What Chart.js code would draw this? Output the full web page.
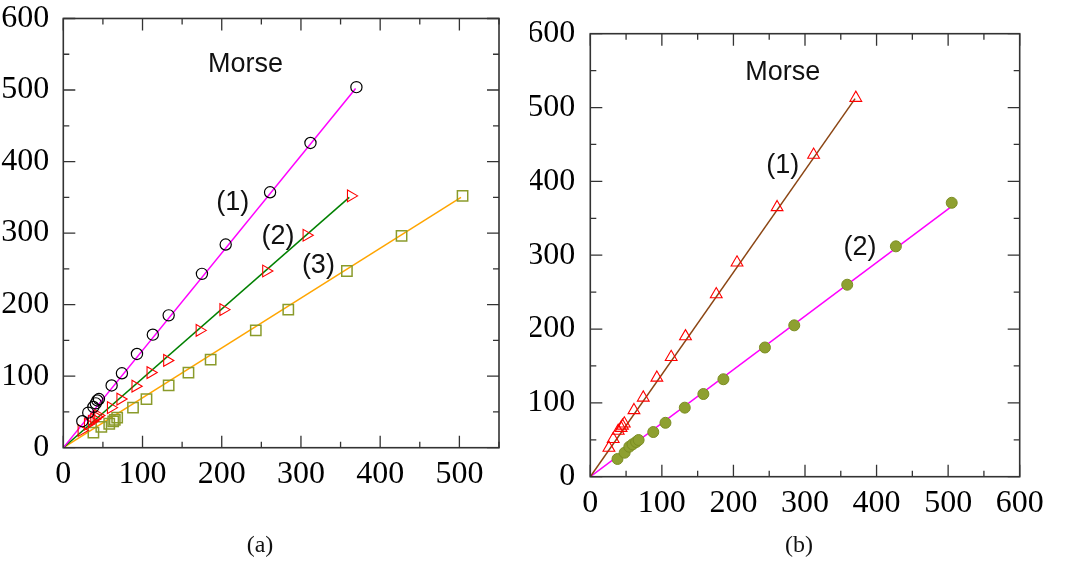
<!DOCTYPE html>
<html>
<head>
<meta charset="utf-8">
<script src="https://cdn.jsdelivr.net/npm/chart.js@4.4.0/dist/chart.umd.min.js"></script>
<style>
  body { margin: 0; background: #fff; width: 1070px; height: 565px; position: relative; overflow: hidden; }
  canvas { position: absolute; top: 0; }
  #chartA { left: 0; }
  #chartB { left: 530px; }
  .cap { position: absolute; font-family: 'Liberation Serif', serif; font-size: 24px; color: #111;
         transform: translateX(-50%); line-height: 28px; }
</style>
</head>
<body>
<canvas id="chartA" width="530" height="565"></canvas>
<canvas id="chartB" width="540" height="565"></canvas>
<div class="cap" style="left:260px;top:530px">(a)</div>
<div class="cap" style="left:799px;top:530px">(b)</div>
<script>
// ---- panel (a): three Morse series ----
const a1X = [24, 31.5, 38, 41, 43, 45, 61, 74, 93, 113, 133, 175, 205, 261, 312, 370];
const a1Y = [37, 49, 57, 62, 66, 68, 87, 104, 131, 158, 185, 243, 284, 357, 426, 504];
const a2X = [23, 31, 36, 39, 42, 44, 60, 72, 91, 110, 131, 172, 202, 256, 307, 363];
const a2Y = [24, 33, 37, 40, 43, 45, 56, 68, 86, 105, 122, 164, 193, 247, 297, 352];
const a3X = [38, 48, 58, 63, 65, 68, 88, 105, 133, 158, 186, 243, 284, 358, 427, 504];
const a3Y = [21, 29, 33.5, 36.7, 39, 42, 56, 68, 87, 105, 123, 164, 193, 247, 296, 352];
// straight fits through the origin
const aFit1X = [0, 369], aFit1Y = [0, 502];
const aFit2X = [0, 361], aFit2Y = [0, 350];
const aFit3X = [0, 502], aFit3Y = [0, 350];

// ---- panel (b): two Morse series ----
const b1X = [26, 32, 39, 43, 45, 47.5, 61, 74, 93, 113, 133, 176, 205, 261, 312, 371];
const b1Y = [39, 51, 62, 66, 69, 72, 90, 107, 134, 162, 190, 247, 290, 365, 436, 513];
const b2X = [38, 48, 54.5, 59, 64, 67.5, 88, 105, 132, 158, 186, 244, 285, 359, 427, 505];
const b2Y = [24, 32.5, 40.6, 43.8, 47, 49.7, 60.5, 73, 93.5, 112, 132, 175, 205, 260, 312, 371];
const bFit1X = [0, 370], bFit1Y = [0, 512];
const bFit2X = [0, 505], bFit2Y = [0, 366];

// ---- axis ticks ----
const aXTicks = [0, 100, 200, 300, 400, 500];
const aXMinor = [50, 150, 250, 350, 450, 550];
const yTicks = [0, 100, 200, 300, 400, 500, 600];
const yMinor = [50, 150, 250, 350, 450, 550];
const bXTicks = [0, 100, 200, 300, 400, 500, 600];
const bXMinor = [50, 150, 250, 350, 450, 550];

const pts = (xs, ys) => xs.map((v, i) => ({ x: v, y: ys[i] }));

const TICK_FONT = { family: "'Liberation Serif', 'DejaVu Serif', serif", size: 32, lineHeight: 0.78 };

function axis(min, max, ticks, padding, size, horizontal) {
  return {
    type: 'linear', min, max,
    grid: { display: false },
    border: { display: false },
    ticks: { padding, color: '#000', font: TICK_FONT, autoSkip: false, maxRotation: 0, minRotation: 0 },
    afterBuildTicks(s) { s.ticks = ticks.map(v => ({ value: v })); },
    afterFit(s) { if (horizontal) s.height = size; else s.width = size; }
  };
}

// box frame with inward ticks on all four sides
const framePlugin = {
  id: 'frame',
  afterDatasetsDraw(chart, args, o) {
    const { ctx, chartArea: a, scales: { x, y } } = chart;
    ctx.save();
    ctx.strokeStyle = '#333';
    ctx.lineWidth = 1.3;
    const tickX = (v, len) => {
      const p = x.getPixelForValue(v);
      ctx.beginPath();
      ctx.moveTo(p, a.bottom); ctx.lineTo(p, a.bottom - len);
      ctx.moveTo(p, a.top); ctx.lineTo(p, a.top + len);
      ctx.stroke();
    };
    const tickY = (v, len) => {
      const p = y.getPixelForValue(v);
      ctx.beginPath();
      ctx.moveTo(a.left, p); ctx.lineTo(a.left + len, p);
      ctx.moveTo(a.right, p); ctx.lineTo(a.right - len, p);
      ctx.stroke();
    };
    o.xMajor.forEach(v => tickX(v, 12));
    o.xMinor.forEach(v => tickX(v, 6));
    o.yMajor.forEach(v => tickY(v, 12));
    o.yMinor.forEach(v => tickY(v, 6));
    ctx.lineWidth = 1.6;
    ctx.strokeRect(a.left, a.top, a.right - a.left, a.bottom - a.top);
    ctx.restore();
  }
};

// text labels placed in data coordinates
const notesPlugin = {
  id: 'notes',
  afterDraw(chart, args, o) {
    const { ctx, scales: { x, y } } = chart;
    ctx.save();
    ctx.fillStyle = '#111';
    ctx.textAlign = 'center';
    ctx.textBaseline = 'middle';
    ctx.font = "27px 'Liberation Sans', Arial, sans-serif";
    o.items.forEach(n => ctx.fillText(n.text, x.getPixelForValue(n.x), y.getPixelForValue(n.y)));
    ctx.restore();
  }
};

const lineSet = (xs, ys, color) => ({
  data: pts(xs, ys), showLine: true, pointRadius: 0, borderColor: color, borderWidth: 1.5, fill: false
});

Chart.defaults.animation = false;

new Chart(document.getElementById('chartA'), {
  type: 'scatter',
  data: {
    datasets: [
      { data: pts(a1X, a1Y), pointStyle: 'circle', pointRadius: 5.6, borderColor: '#000', backgroundColor: 'rgba(0,0,0,0)', pointBorderWidth: 1.2 },
      { data: pts(a2X, a2Y), pointStyle: 'triangle', rotation: 90, pointRadius: 6.8, borderColor: '#ff0000', backgroundColor: 'rgba(0,0,0,0)', pointBorderWidth: 1.1 },
      { data: pts(a3X, a3Y), pointStyle: 'rect', pointRadius: 7.3, borderColor: '#8a9b2b', backgroundColor: 'rgba(0,0,0,0)', pointBorderWidth: 1.5 },
      lineSet(aFit1X, aFit1Y, '#ff00ff'),
      lineSet(aFit2X, aFit2Y, '#008000'),
      lineSet(aFit3X, aFit3Y, '#ffa500')
    ]
  },
  options: {
    responsive: false,
    devicePixelRatio: 1,
    layout: { padding: { left: 0, right: 31, top: 13, bottom: 0 } },
    scales: {
      x: axis(0, 550, aXTicks, 6, 117.3, true),
      y: axis(0, 600, yTicks, 6, 63.3, false)
    },
    plugins: {
      legend: { display: false },
      tooltip: { enabled: false },
      frame: { xMajor: aXTicks, xMinor: aXMinor, yMajor: yTicks, yMinor: yMinor },
      notes: { items: [
        { text: 'Morse', x: 230, y: 536 },
        { text: '(1)', x: 214, y: 343 },
        { text: '(2)', x: 271, y: 295 },
        { text: '(3)', x: 322, y: 255 }
      ] }
    }
  },
  plugins: [framePlugin, notesPlugin]
});

new Chart(document.getElementById('chartB'), {
  type: 'scatter',
  data: {
    datasets: [
      { data: pts(b1X, b1Y), pointStyle: 'triangle', pointRadius: 6.8, borderColor: '#ff0000', backgroundColor: 'rgba(0,0,0,0)', pointBorderWidth: 1.1 },
      { data: pts(b2X, b2Y), pointStyle: 'circle', pointRadius: 5.5, borderColor: '#7b8d22', backgroundColor: '#8ea030', pointBorderWidth: 1 },
      lineSet(bFit1X, bFit1Y, '#8b4513'),
      lineSet(bFit2X, bFit2Y, '#ff00ff')
    ]
  },
  options: {
    responsive: false,
    devicePixelRatio: 1,
    layout: { padding: { left: 0, right: 50.3, top: 33.7, bottom: 0 } },
    scales: {
      x: axis(0, 600, bXTicks, 6, 88.3, true),
      y: axis(0, 600, yTicks, 7, 60.3, false)
    },
    plugins: {
      legend: { display: false },
      tooltip: { enabled: false },
      frame: { xMajor: bXTicks, xMinor: bXMinor, yMajor: yTicks, yMinor: yMinor },
      notes: { items: [
        { text: 'Morse', x: 269, y: 547 },
        { text: '(1)', x: 269, y: 421 },
        { text: '(2)', x: 377, y: 310 }
      ] }
    }
  },
  plugins: [framePlugin, notesPlugin]
});
</script>
</body>
</html>
